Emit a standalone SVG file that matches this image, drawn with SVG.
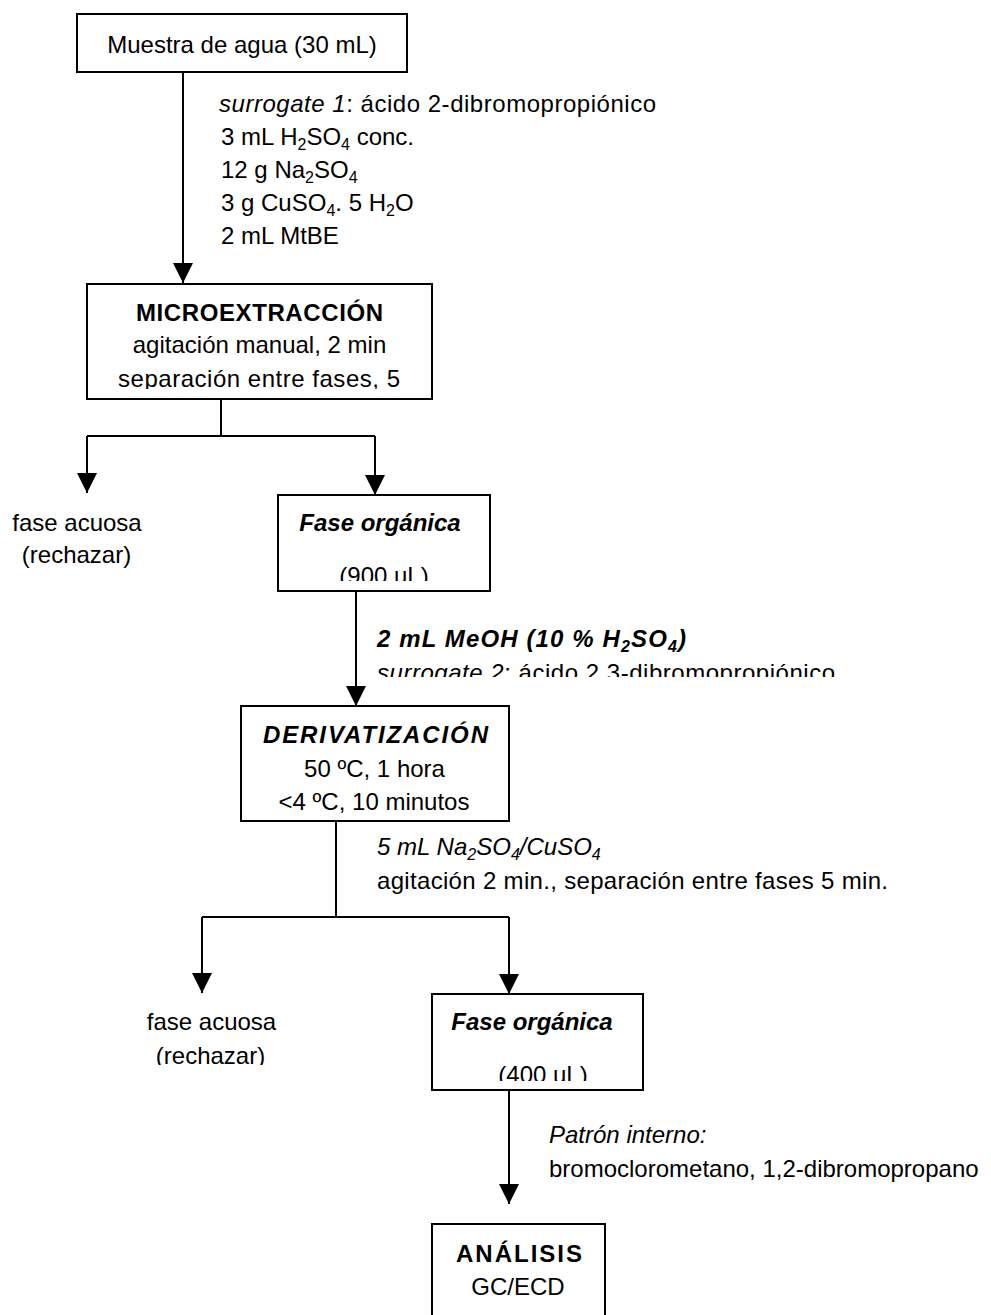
<svg xmlns="http://www.w3.org/2000/svg" width="991" height="1315" viewBox="0 0 991 1315">
<defs>
<style>
text{font-family:"Liberation Sans",Arial,sans-serif;font-size:24px;fill:#000}
.c{text-anchor:middle}
.b{font-weight:bold}
.i{font-style:italic}
.bi{font-weight:bold;font-style:italic}
.box{fill:none;stroke:#000;stroke-width:2}
.ln{fill:none;stroke:#000;stroke-width:2}
.sub{font-size:16px}
</style>
<marker id="ah" markerUnits="userSpaceOnUse" markerWidth="20" markerHeight="20" refX="20" refY="10" orient="auto" viewBox="0 0 20 20">
<path d="M0,0 L20,10 L0,20 Z" fill="#000"/>
</marker>
<clipPath id="cSep" clipPathUnits="userSpaceOnUse"><rect x="88" y="290" width="343" height="99"/></clipPath>
<clipPath id="c900" clipPathUnits="userSpaceOnUse"><rect x="279" y="540" width="210" height="41"/></clipPath>
<clipPath id="cSur2" clipPathUnits="userSpaceOnUse"><rect x="360" y="650" width="600" height="27"/></clipPath>
<clipPath id="cRech2" clipPathUnits="userSpaceOnUse"><rect x="100" y="1035" width="250" height="30"/></clipPath>
<clipPath id="c400" clipPathUnits="userSpaceOnUse"><rect x="433" y="1040" width="209" height="41"/></clipPath>
</defs>
<rect x="0" y="0" width="991" height="1315" fill="#fff"/>

<g id="connectors">
<line class="ln" x1="183" y1="72" x2="183" y2="283" marker-end="url(#ah)"/>
<polyline class="ln" points="221,400 221,436"/>
<polyline class="ln" points="87,436 375,436"/>
<line class="ln" x1="87" y1="436" x2="87" y2="493" marker-end="url(#ah)"/>
<line class="ln" x1="375" y1="436" x2="375" y2="495" marker-end="url(#ah)"/>
<line class="ln" x1="356" y1="591" x2="356" y2="706" marker-end="url(#ah)"/>
<polyline class="ln" points="336,821 336,917"/>
<polyline class="ln" points="202,917 509,917"/>
<line class="ln" x1="202" y1="917" x2="202" y2="993" marker-end="url(#ah)"/>
<line class="ln" x1="509" y1="917" x2="509" y2="994" marker-end="url(#ah)"/>
<line class="ln" x1="509" y1="1090" x2="509" y2="1204" marker-end="url(#ah)"/>
</g>

<g id="muestra">
<rect class="box" x="77" y="14" width="330" height="58"/>
<text class="c" x="242" y="53">Muestra de agua (30 mL)</text>
</g>

<g id="reactivos1">
<text x="219" y="112" textLength="437"><tspan class="i">surrogate 1</tspan>: ácido 2-dibromopropiónico</text>
<text x="221" y="145">3 mL H<tspan class="sub" dy="5">2</tspan><tspan dy="-5">SO</tspan><tspan class="sub" dy="5">4</tspan><tspan dy="-5"> conc.</tspan></text>
<text x="221" y="178">12 g Na<tspan class="sub" dy="5">2</tspan><tspan dy="-5">SO</tspan><tspan class="sub" dy="5">4</tspan></text>
<text x="221" y="211">3 g CuSO<tspan class="sub" dy="5">4</tspan><tspan dy="-5">. 5 H</tspan><tspan class="sub" dy="5">2</tspan><tspan dy="-5">O</tspan></text>
<text x="221" y="244">2 mL MtBE</text>
</g>

<g id="microextraccion">
<rect class="box" x="87" y="284" width="345" height="115"/>
<text class="c b" x="259.5" y="321" textLength="247">MICROEXTRACCIÓN</text>
<text class="c" x="259.5" y="353">agitación manual, 2 min</text>
<text class="c" x="259" y="387" textLength="282" clip-path="url(#cSep)">separación entre fases, 5</text>
</g>

<g id="fase-acuosa-1">
<text class="c" x="77" y="531">fase acuosa</text>
<text class="c" x="76.5" y="563">(rechazar)</text>
</g>

<g id="fase-organica-1">
<rect class="box" x="278" y="495" width="212" height="96"/>
<text class="c bi" x="380" y="531">Fase orgánica</text>
<text class="c" x="384" y="584" clip-path="url(#c900)">(900 uL)</text>
</g>

<g id="reactivos2">
<text class="bi" x="377" y="647" textLength="309">2 mL MeOH (10 % H<tspan class="sub" dy="5">2</tspan><tspan dy="-5">SO</tspan><tspan class="sub" dy="5">4</tspan><tspan dy="-5">)</tspan></text>
<text x="377" y="681" textLength="458" clip-path="url(#cSur2)"><tspan class="i">surrogate 2</tspan>: ácido 2,3-dibromopropiónico</text>
</g>

<g id="derivatizacion">
<rect class="box" x="241" y="706" width="268" height="115"/>
<text class="c bi" x="375.5" y="743" textLength="225">DERIVATIZACIÓN</text>
<text class="c" x="374.5" y="777">50 ºC, 1 hora</text>
<text class="c" x="374" y="810">&lt;4 ºC, 10 minutos</text>
</g>

<g id="reactivos3">
<text class="i" x="377" y="855">5 mL Na<tspan class="sub" dy="5">2</tspan><tspan dy="-5">SO</tspan><tspan class="sub" dy="5">4</tspan><tspan dy="-5">/CuSO</tspan><tspan class="sub" dy="5">4</tspan></text>
<text x="377" y="889" textLength="511">agitación 2 min., separación entre fases 5 min.</text>
</g>

<g id="fase-acuosa-2">
<text class="c" x="211.5" y="1030">fase acuosa</text>
<text class="c" x="210.5" y="1064" clip-path="url(#cRech2)">(rechazar)</text>
</g>

<g id="fase-organica-2">
<rect class="box" x="432" y="994" width="211" height="96"/>
<text class="c bi" x="532" y="1030">Fase orgánica</text>
<text class="c" x="543" y="1083" clip-path="url(#c400)">(400 uL)</text>
</g>

<g id="patron-interno">
<text class="i" x="549" y="1143">Patrón interno:</text>
<text x="549" y="1177">bromoclorometano, 1,2-dibromopropano</text>
</g>

<g id="analisis">
<rect class="box" x="432" y="1224" width="173" height="120"/>
<text class="c b" x="519" y="1262" textLength="126">ANÁLISIS</text>
<text class="c" x="518" y="1295">GC/ECD</text>
</g>
</svg>
